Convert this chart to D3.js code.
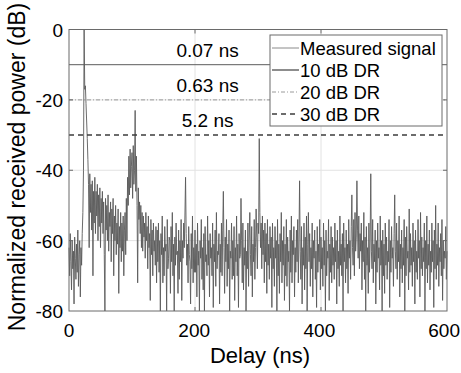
<!DOCTYPE html>
<html>
<head>
<meta charset="utf-8">
<script src="https://cdn.jsdelivr.net/npm/d3@7"></script>
<style>
  body { margin: 0; background: #fff; }
  text { font-family: "Liberation Sans", Arial, sans-serif; fill: #000; }
</style>
</head>
<body>
<script>
// measured power delay profile, one sample every 1 ns (0 .. 600 ns)
var sampleStep = 1;
var power = [
  -62,-70,-58,-66,-74,-60,-68,-63,-78,-59,-65,-71,-61,-69,-57,-73,-64,-60,-76,-62,
  -67,-58,-52,-40,  0,-17,-16,-21,-26,-31,-37,-44,-62,-41,-52,-44,-57,-43,-70,-46,
  -55,-42,-58,-46,-53,-44,-60,-47,-56,-45,-62,-48,-55,-46,-58,-49,-64,-80,-48,-57,
  -50,-60,-47,-63,-52,-56,-49,-66,-51,-58,-48,-70,-53,-60,-50,-64,-55,-61,-51,-75,
  -56,-62,-52,-66,-55,-63,-53,-70,-57,-52,-64,-48,-60,-42,-50,-36,-47,-34,-45,-39,
  -35,-48,-33,-44,-40,-23,-46,-36,-50,-72,-45,-54,-49,-58,-50,-62,-52,-63,-53,-59,
  -55,-65,-52,-60,-56,-68,-53,-62,-58,-77,-54,-64,-57,-70,-55,-63,-60,-67,-56,-72,
  -57,-66,-55,-69,-60,-80,-58,-64,-53,-72,-62,-70,-56,-63,-61,-80,-54,-68,-65,-59,
  -60,-75,-56,-66,-52,-70,-61,-80,-59,-67,-55,-64,-63,-75,-57,-71,-60,-66,-54,-77,
  -60,-65,-55,-62,-53,-42,-58,-67,-61,-72,-56,-64,-66,-78,-58,-68,-53,-72,-62,-69,
  -57,-69,-61,-76,-55,-67,-63,-80,-60,-65,-54,-71,-62,-74,-58,-80,-56,-66,-64,-70,
  -53,-67,-60,-76,-58,-65,-62,-70,-55,-79,-61,-66,-57,-73,-52,-68,-63,-64,-58,-78,
  -61,-69,-55,-70,-57,-46,-62,-75,-59,-66,-54,-73,-61,-68,-57,-80,-63,-65,-55,-71,
  -60,-70,-56,-77,-62,-66,-53,-70,-61,-79,-58,-65,-64,-48,-60,-72,-55,-74,-62,-67,
  -57,-80,-63,-68,-55,-73,-60,-52,-64,-70,-56,-76,-61,-66,-54,-71,-62,-51,-59,-68,
  -55,-58,-31,-52,-62,-55,-68,-53,-64,-57,-72,-55,-66,-58,-75,-54,-67,-61,-71,-56,
  -65,-59,-79,-55,-68,-62,-73,-56,-65,-60,-80,-54,-70,-61,-75,-58,-66,-52,-72,-60,
  -67,-56,-77,-61,-70,-54,-73,-59,-66,-63,-80,-57,-69,-53,-72,-60,-64,-56,-76,-62,
  -69,-57,-66,-54,-72,-60,-43,-63,-71,-56,-78,-62,-67,-55,-74,-59,-68,-53,-80,-61,
  -52,-66,-58,-73,-62,-68,-55,-76,-60,-65,-57,-71,-63,-79,-56,-69,-61,-66,-54,-74,
  -59,-68,-62,-73,-55,-67,-60,-80,-57,-70,-63,-65,-54,-77,-61,-69,-56,-72,-59,-67,
  -62,-71,-55,-66,-60,-78,-57,-68,-63,-73,-53,-67,-61,-70,-58,-80,-55,-66,-62,-72,
  -57,-68,-61,-75,-54,-65,-60,-71,-56,-47,-62,-67,-54,-70,-52,-63,-59,-43,-57,-65,
  -53,-68,-58,-63,-55,-74,-60,-66,-52,-71,-59,-80,-56,-67,-62,-75,-55,-69,-60,-41,
  -63,-68,-54,-72,-61,-66,-57,-78,-60,-69,-55,-65,-62,-74,-53,-67,-60,-80,-57,-70,
  -61,-75,-55,-67,-59,-71,-63,-66,-54,-79,-60,-69,-56,-65,-62,-73,-58,-47,-63,-68,
  -55,-71,-60,-66,-53,-76,-61,-68,-57,-72,-62,-67,-54,-80,-59,-70,-56,-65,-63,-74,
  -51,-69,-58,-67,-62,-73,-55,-66,-60,-78,-57,-69,-63,-71,-54,-65,-60,-76,-52,-68,
  -59,-70,-62,-66,-55,-80,-60,-68,-53,-72,-61,-67,-57,-74,-63,-69,-55,-66,-60,-79,
  -57,-68,-50,-71,-61,-67,-55,-73,-62,-66,-58,-70,-54,-77,-60,-68,-63,-65,-56,-71,
  -63
];

// dynamic range thresholds and the rms delay spread found for each
var drLevels = [-10, -20, -30];
var drSpreads = ["0.07 ns", "0.63 ns", "5.2 ns"];
var legendLabels = ["Measured signal", "10 dB DR", "20 dB DR", "30 dB DR"];
var xTicks = [0, 200, 400, 600];
var yTicks = [0, -20, -40, -60, -80];

var width = 461, height = 373;
var x0 = 69, x1 = 447, y0 = 29.5, y1 = 311;

var svg = d3.select("body").append("svg")
    .attr("width", width)
    .attr("height", height);

var x = d3.scaleLinear().domain([0, 600]).range([x0, x1]);
var y = d3.scaleLinear().domain([-80, 0]).range([y1, y0]);

// styles: measured, 10 dB, 20 dB, 30 dB
var lineStyles = [
  { stroke: "#8a8a8a", width: 1, dash: null },
  { stroke: "#5c5c5c", width: 1.4, dash: null },
  { stroke: "#9a9a9a", width: 1, dash: "4,2,1,2" },
  { stroke: "#3c3c3c", width: 1.5, dash: "5,4" }
];

// grid
svg.append("g").selectAll("line.gx")
  .data(xTicks.slice(1, -1)).enter().append("line")
    .attr("x1", function(d) { return x(d) }).attr("x2", function(d) { return x(d) })
    .attr("y1", y0).attr("y2", y1)
    .attr("stroke", "#e2e2e2").attr("stroke-width", 1);
svg.append("g").selectAll("line.gy")
  .data(yTicks.slice(1, -1)).enter().append("line")
    .attr("x1", x0).attr("x2", x1)
    .attr("y1", function(d) { return y(d) }).attr("y2", function(d) { return y(d) })
    .attr("stroke", "#e2e2e2").attr("stroke-width", 1);

// measured signal
var data = power.map(function(p, i) { return [i * sampleStep, p] });
svg.append("path")
    .datum(data)
    .attr("fill", "none")
    .attr("stroke", "#5a5a5a")
    .attr("stroke-width", 0.9)
    .attr("d", d3.line().x(function(d) { return x(d[0]) }).y(function(d) { return y(d[1]) }));

// threshold lines
svg.append("g").selectAll("line")
  .data(drLevels).enter().append("line")
    .attr("x1", x0).attr("x2", x1)
    .attr("y1", function(d) { return y(d) }).attr("y2", function(d) { return y(d) })
    .attr("stroke", function(d, i) { return lineStyles[i + 1].stroke })
    .attr("stroke-width", function(d, i) { return i == 0 ? 1 : lineStyles[i + 1].width })
    .attr("stroke-dasharray", function(d, i) { return lineStyles[i + 1].dash });

svg.append("g").selectAll("text")
  .data(drLevels).enter().append("text")
    .attr("x", x(220))
    .attr("y", function(d) { return y(d) - 8 })
    .attr("text-anchor", "middle")
    .style("font-size", "19px")
    .text(function(d, i) { return drSpreads[i] });

// frame
svg.append("rect")
    .attr("x", x0).attr("y", y0)
    .attr("width", x1 - x0).attr("height", y1 - y0)
    .attr("fill", "none").attr("stroke", "#6a6a6a").attr("stroke-width", 1);

// tick marks inside the frame
xTicks.slice(1, -1).forEach(function(t) {
  svg.append("line").attr("x1", x(t)).attr("x2", x(t)).attr("y1", y1).attr("y2", y1 - 4).attr("stroke", "#6a6a6a");
  svg.append("line").attr("x1", x(t)).attr("x2", x(t)).attr("y1", y0).attr("y2", y0 + 4).attr("stroke", "#6a6a6a");
});
yTicks.slice(1, -1).forEach(function(t) {
  svg.append("line").attr("x1", x0).attr("x2", x0 + 4).attr("y1", y(t)).attr("y2", y(t)).attr("stroke", "#6a6a6a");
  svg.append("line").attr("x1", x1).attr("x2", x1 - 4).attr("y1", y(t)).attr("y2", y(t)).attr("stroke", "#6a6a6a");
});

// tick labels
svg.append("g").selectAll("text")
  .data(xTicks).enter().append("text")
    .attr("x", function(d) { return d == 600 ? 460 : x(d) - d * 0.004 })
    .attr("y", 337)
    .attr("text-anchor", function(d) { return d == 600 ? "end" : "middle" })
    .style("font-size", "19px")
    .text(function(d) { return d });
svg.append("g").selectAll("text")
  .data(yTicks).enter().append("text")
    .attr("x", 63)
    .attr("y", function(d) { return y(d) + 7 })
    .attr("text-anchor", "end")
    .style("font-size", "19px")
    .text(function(d) { return d });

// axis titles
svg.append("text")
    .attr("x", 260).attr("y", 363)
    .attr("text-anchor", "middle")
    .style("font-size", "22px")
    .text("Delay (ns)");
svg.append("text")
    .attr("transform", "translate(25,167) rotate(-90)")
    .attr("text-anchor", "middle")
    .style("font-size", "23px")
    .text("Normalized received power (dB)");

// legend
var legend = svg.append("g");
legend.append("rect")
    .attr("x", 270).attr("y", 35)
    .attr("width", 172).attr("height", 91)
    .attr("fill", "#fff").attr("stroke", "#6a6a6a").attr("stroke-width", 1);
var rows = legend.selectAll("g.row")
  .data(legendLabels).enter().append("g")
    .attr("transform", function(d, i) { return "translate(0," + (48 + i * 22) + ")" });
rows.append("line")
    .attr("x1", 272).attr("x2", 299).attr("y1", 0).attr("y2", 0)
    .attr("stroke", function(d, i) { return lineStyles[i].stroke })
    .attr("stroke-width", function(d, i) { return lineStyles[i].width })
    .attr("stroke-dasharray", function(d, i) { return lineStyles[i].dash });
rows.append("text")
    .attr("x", 300).attr("y", 7)
    .style("font-size", "18.5px")
    .text(function(d) { return d });
</script>
</body>
</html>
